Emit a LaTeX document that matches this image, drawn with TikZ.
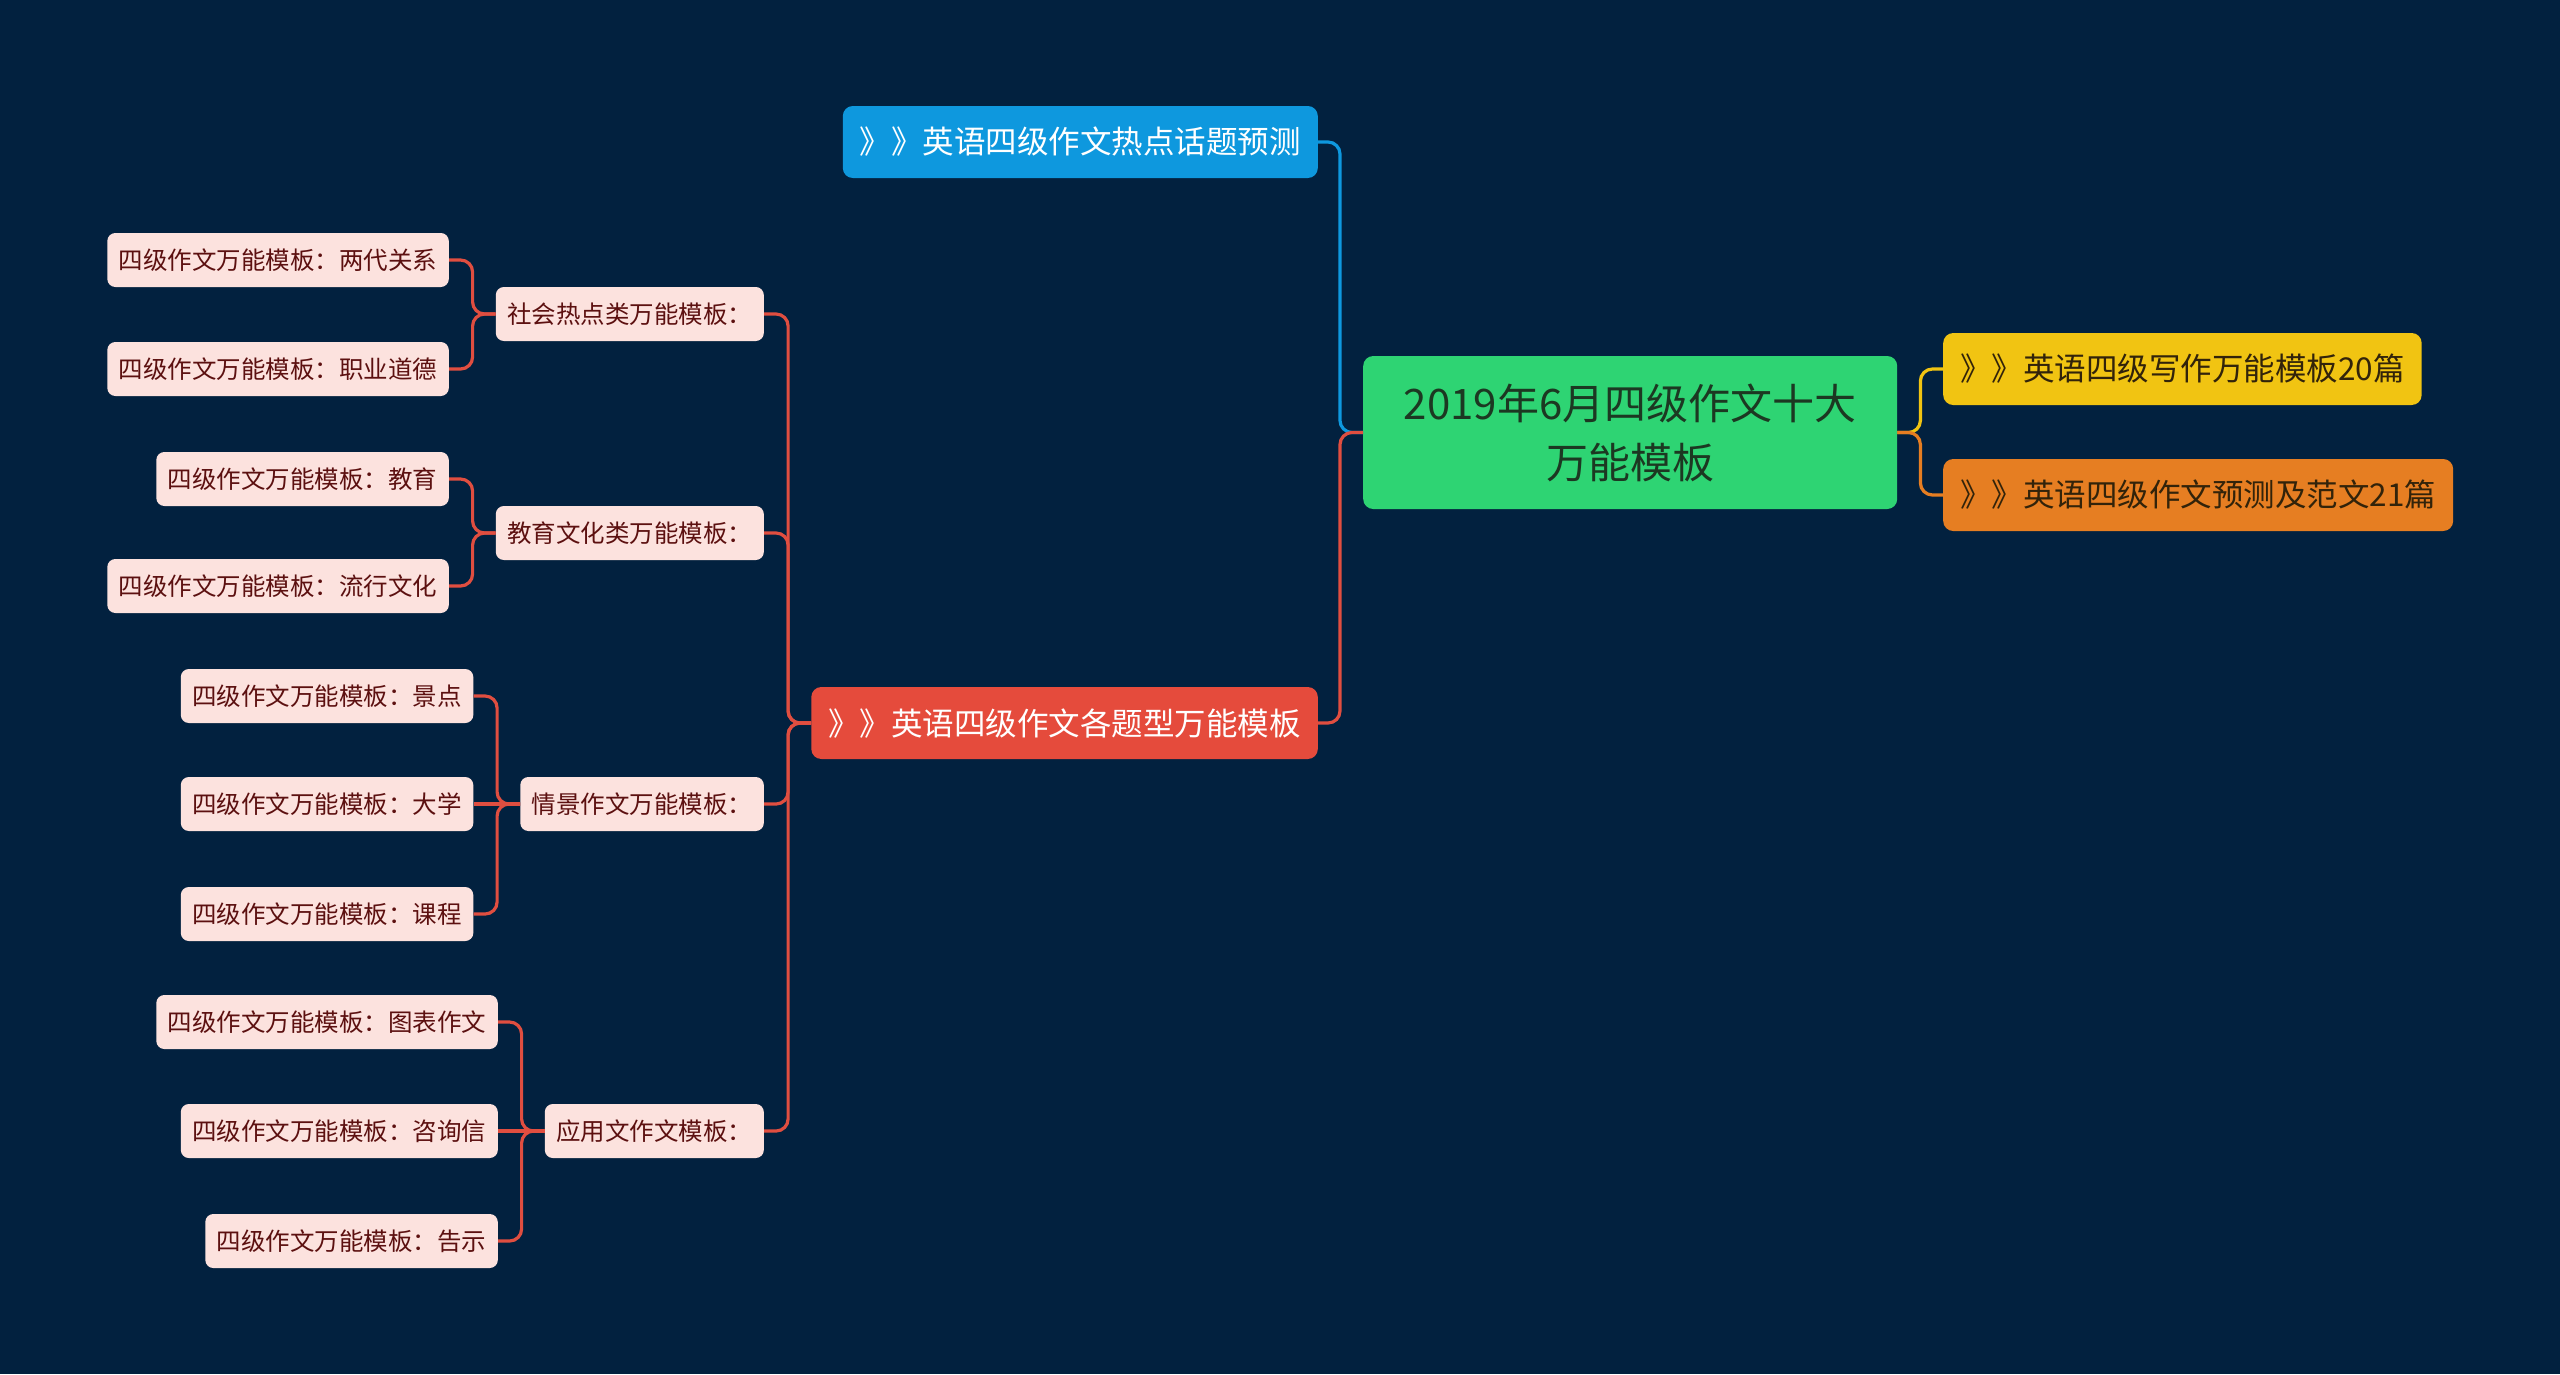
\documentclass[tikz,border=0pt]{standalone}
\usepackage{fontspec}
\setmainfont{Noto Sans CJK SC}
\definecolor{bg}{RGB}{2,33,63}
\definecolor{rootc}{RGB}{46,212,115}
\definecolor{roottxt}{RGB}{28,56,34}
\definecolor{bluec}{RGB}{14,152,222}
\definecolor{redc}{RGB}{229,75,60}
\definecolor{yellowc}{RGB}{241,196,18}
\definecolor{orangec}{RGB}{230,126,34}
\definecolor{darktxt}{RGB}{50,35,10}
\definecolor{pinkbg}{RGB}{252,226,222}
\definecolor{pinktxt}{RGB}{92,16,16}
\definecolor{linered}{RGB}{224,78,64}
\begin{document}
\begin{tikzpicture}[x=1pt,y=-1pt,
  leaf/.style={fill=pinkbg, rounded corners=8pt, text=pinktxt,
    font=\fontsize{24.5pt}{30pt}\selectfont, inner xsep=11.5pt, inner ysep=0pt,
    minimum height=54pt, anchor=east},
  topic/.style={rounded corners=10pt, font=\fontsize{31.5pt}{38pt}\selectfont,
    inner xsep=17pt, inner ysep=0pt, minimum height=72pt},
  conn/.style={line width=3.2pt, rounded corners=12pt},
]
\fill[bg] (0,0) rectangle (2560,1374);
\useasboundingbox (0,0) rectangle (2560,1374);

% root
\node[fill=rootc, rounded corners=10pt, text=roottxt, minimum width=534pt, minimum height=153pt,
  align=center, font=\fontsize{42pt}{59pt}\selectfont, anchor=west, inner sep=0pt]
  (root) at (1363,432.5) {2019年6月四级作文十大\\万能模板};

% level 1
\node[topic, fill=bluec, text=white, anchor=east] (blue) at (1318,142) {》》英语四级作文热点话题预测};
\node[topic, fill=redc, text=white, anchor=east] (red) at (1318,723) {》》英语四级作文各题型万能模板};
\node[topic, fill=yellowc, text=darktxt, anchor=west] (yel) at (1943,369) {》》英语四级写作万能模板20篇};
\node[topic, fill=orangec, text=darktxt, anchor=west] (ora) at (1943,495) {》》英语四级作文预测及范文21篇};

% level 2
\node[leaf] (soc) at (764,314) {社会热点类万能模板：};
\node[leaf] (edu) at (764,533) {教育文化类万能模板：};
\node[leaf] (qj) at (764,804) {情景作文万能模板：};
\node[leaf] (yy) at (764,1131) {应用文作文模板：};

% level 3
\node[leaf] (a1) at (449,260) {四级作文万能模板：两代关系};
\node[leaf] (a2) at (449,369) {四级作文万能模板：职业道德};
\node[leaf] (b1) at (449,479) {四级作文万能模板：教育};
\node[leaf] (b2) at (449,586) {四级作文万能模板：流行文化};
\node[leaf] (c1) at (473.5,696) {四级作文万能模板：景点};
\node[leaf] (c2) at (473.5,804) {四级作文万能模板：大学};
\node[leaf] (c3) at (473.5,914) {四级作文万能模板：课程};
\node[leaf] (d1) at (498,1022) {四级作文万能模板：图表作文};
\node[leaf] (d2) at (498,1131) {四级作文万能模板：咨询信};
\node[leaf] (d3) at (498,1241) {四级作文万能模板：告示};

% connectors
\draw[conn, draw=bluec] (root.west) -- ++(-23,0) |- (blue.east);
\draw[conn, draw=linered] (root.west) -- ++(-23,0) |- (red.east);
\draw[conn, draw=yellowc] (root.east) -- ++(23,0) |- (yel.west);
\draw[conn, draw=orangec] (root.east) -- ++(23,0) |- (ora.west);

\foreach \t in {soc,edu,qj,yy}
  \draw[conn, draw=linered] (red.west) -- ++(-23,0) |- (\t.east);
\foreach \t in {a1,a2}
  \draw[conn, draw=linered] (soc.west) -- ++(-23,0) |- (\t.east);
\foreach \t in {b1,b2}
  \draw[conn, draw=linered] (edu.west) -- ++(-23,0) |- (\t.east);
\foreach \t in {c1,c3}
  \draw[conn, draw=linered] (qj.west) -- ++(-23,0) |- (\t.east);
\draw[conn, draw=linered] (qj.west) -- (c2.east);
\foreach \t in {d1,d3}
  \draw[conn, draw=linered] (yy.west) -- ++(-23,0) |- (\t.east);
\draw[conn, draw=linered] (yy.west) -- (d2.east);
\end{tikzpicture}
\end{document}
